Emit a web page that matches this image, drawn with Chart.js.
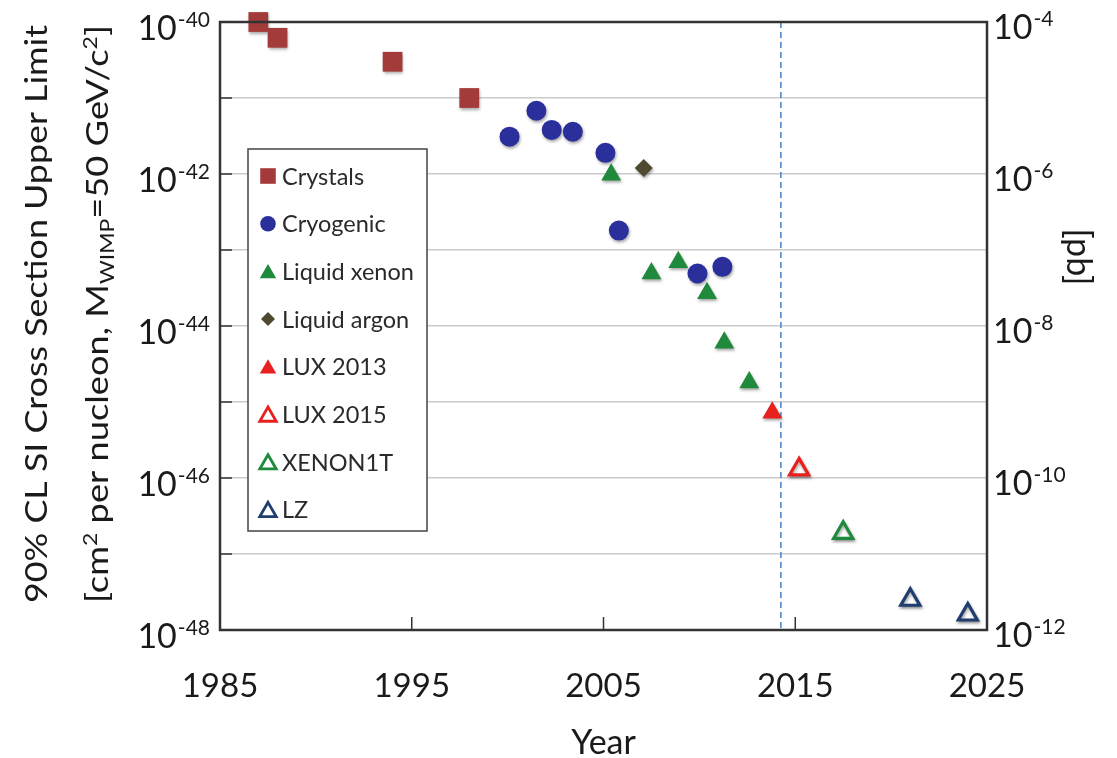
<!DOCTYPE html>
<html>
<head>
<meta charset="utf-8">
<script src="https://cdn.jsdelivr.net/npm/chart.js@4.4.1/dist/chart.umd.min.js"></script>
<style>
  html, body { margin: 0; padding: 0; background: #fff; }
  #wrap { width: 1117px; height: 758px; }
</style>
</head>
<body>
<div id="wrap"><canvas id="limitChart" width="1117" height="758"></canvas></div>
<script>
// --- data: year of result, 90% CL upper limit in cm^2 ---
const crystalYears = [1987.0, 1988.0, 1994.0, 1998.0];
const crystalLimits = [1.0e-40, 6.2e-41, 3.0e-41, 1.0e-41];

const cryoYears = [2000.1, 2001.5, 2002.3, 2003.4, 2005.1, 2005.8, 2009.9, 2011.2];
const cryoLimits = [3.1e-42, 6.8e-42, 3.8e-42, 3.6e-42, 1.9e-42, 1.8e-43, 4.9e-44, 6.0e-44];

const xenonYears = [2005.4, 2007.5, 2008.9, 2010.4, 2011.3, 2012.6];
const xenonLimits = [9.8e-43, 4.9e-44, 6.9e-44, 2.7e-44, 6.0e-45, 1.8e-45];

const argonYears = [2007.1];
const argonLimits = [1.2e-42];

const lux2013Years = [2013.8];
const lux2013Limits = [7.2e-46];

const lux2015Years = [2015.2];
const lux2015Limits = [1.3e-46];

const xenon1tYears = [2017.5];
const xenon1tLimits = [1.9e-47];

const lzYears = [2021.0, 2024.0];
const lzLimits = [2.5e-48, 1.6e-48];

// "today" marker
const nowYear = 2014.25;

// axes
const yearTicks = [1985, 1995, 2005, 2015, 2025];
const cmDecades = [-48, -47, -46, -45, -44, -43, -42, -41, -40];
const cmLabelExps = ['-40', '-42', '-44', '-46', '-48'];
const pbLabelExps = ['-4', '-6', '-8', '-10', '-12'];

const FONT = 'Lato, "Open Sans", sans-serif';
const font = (s) => s + 'px ' + FONT;

function pts(xs, ys) {
  return xs.map((x, i) => ({ x: x, y: ys[i] }));
}

const datasets = [
  { label: 'Crystals', data: pts(crystalYears, crystalLimits), pointStyle: 'rect', pointRadius: 14,
    backgroundColor: '#a33b3a', borderColor: '#a33b3a', borderWidth: 0 },
  { label: 'Cryogenic', data: pts(cryoYears, cryoLimits), pointStyle: 'circle', pointRadius: 10,
    backgroundColor: '#2b2f9c', borderColor: '#2b2f9c', borderWidth: 0 },
  { label: 'Liquid xenon', data: pts(xenonYears, xenonLimits), pointStyle: 'triangle', pointRadius: 11.5,
    backgroundColor: '#1f8a3c', borderColor: '#1f8a3c', borderWidth: 0 },
  { label: 'Liquid argon', data: pts(argonYears, argonLimits), pointStyle: 'rectRot', pointRadius: 9,
    backgroundColor: '#4e4a30', borderColor: '#4e4a30', borderWidth: 0 },
  { label: 'LUX 2013', data: pts(lux2013Years, lux2013Limits), pointStyle: 'triangle', pointRadius: 11.5,
    backgroundColor: '#e8201e', borderColor: '#e8201e', borderWidth: 0 },
  { label: 'LUX 2015', data: pts(lux2015Years, lux2015Limits), pointStyle: 'triangle', pointRadius: 11,
    backgroundColor: '#ffffff', borderColor: '#e8201e', borderWidth: 3.2, open: true },
  { label: 'XENON1T', data: pts(xenon1tYears, xenon1tLimits), pointStyle: 'triangle', pointRadius: 11,
    backgroundColor: '#ffffff', borderColor: '#1f8a3c', borderWidth: 3.2, open: true },
  { label: 'LZ', data: pts(lzYears, lzLimits), pointStyle: 'triangle', pointRadius: 11,
    backgroundColor: '#ffffff', borderColor: '#1f3d6e', borderWidth: 3.2, open: true }
].map(d => Object.assign(d, { clip: false, pointHoverRadius: d.pointRadius }));

// small marker shapes for the legend box
function drawMarker(ctx, style, x, y, r, fill, stroke, lw) {
  ctx.beginPath();
  if (style === 'rect') {
    ctx.rect(x - r, y - r, 2 * r, 2 * r);
  } else if (style === 'circle') {
    ctx.arc(x, y, r, 0, Math.PI * 2);
  } else if (style === 'rectRot') {
    ctx.moveTo(x, y - r); ctx.lineTo(x + r, y); ctx.lineTo(x, y + r); ctx.lineTo(x - r, y);
  } else {
    ctx.moveTo(x, y - r);
    ctx.lineTo(x + r * 0.866, y + r * 0.5);
    ctx.lineTo(x - r * 0.866, y + r * 0.5);
  }
  ctx.closePath();
  ctx.fillStyle = fill;
  ctx.fill();
  if (lw > 0) {
    ctx.lineWidth = lw;
    ctx.strokeStyle = stroke;
    ctx.lineJoin = 'miter';
    ctx.stroke();
  }
}

// "10" followed by a raised exponent
function drawPower(ctx, exp, x, y, align, big, small, baseDy, supDy) {
  ctx.font = font(big);
  const w1 = ctx.measureText('10').width;
  ctx.font = font(small);
  const w2 = ctx.measureText(exp).width;
  const x0 = align === 'right' ? x - w1 - w2 : x;
  ctx.textAlign = 'left';
  ctx.textBaseline = 'alphabetic';
  ctx.font = font(big);
  ctx.fillText('10', x0, y + baseDy);
  ctx.font = font(small);
  ctx.fillText(exp, x0 + w1 + 1, y + supDy);
}

const markerShadow = {
  id: 'markerShadow',
  beforeDatasetsDraw(chart) {
    const ctx = chart.ctx;
    const area = chart.chartArea;
    const xs = chart.scales.x;
    // dashed vertical line at the current year
    ctx.save();
    ctx.strokeStyle = '#4f88d0';
    ctx.lineWidth = 1.6;
    ctx.setLineDash([6, 4]);
    const px = xs.getPixelForValue(nowYear);
    ctx.beginPath();
    ctx.moveTo(px, area.top);
    ctx.lineTo(px, area.bottom);
    ctx.stroke();
    ctx.restore();

    ctx.save();
    ctx.shadowColor = 'rgba(0,0,0,0.35)';
    ctx.shadowBlur = 3;
    ctx.shadowOffsetX = 1;
    ctx.shadowOffsetY = 2;
  },
  afterDatasetsDraw(chart) {
    chart.ctx.restore();
  }
};

const frameAndText = {
  id: 'frameAndText',
  afterDraw(chart) {
    const ctx = chart.ctx;
    const a = chart.chartArea;
    const xs = chart.scales.x;
    const ys = chart.scales.y;
    const pb = chart.scales.pb;
    ctx.save();

    // plot frame
    ctx.strokeStyle = '#333';
    ctx.lineWidth = 2.5;
    ctx.strokeRect(a.left, a.top, a.right - a.left, a.bottom - a.top);

    // inward tick marks
    ctx.lineWidth = 1.5;
    ctx.beginPath();
    cmDecades.forEach(e => {
      const py = ys.getPixelForValue(Math.pow(10, e));
      ctx.moveTo(a.left, py); ctx.lineTo(a.left + 12, py);
    });
    yearTicks.forEach(yr => {
      const px = xs.getPixelForValue(yr);
      ctx.moveTo(px, a.bottom); ctx.lineTo(px, a.bottom - 13);
    });
    ctx.stroke();

    ctx.fillStyle = '#1a1a1a';

    // left tick labels
    cmLabelExps.forEach(e => {
      const py = ys.getPixelForValue(Math.pow(10, Number(e)));
      drawPower(ctx, e, 209, py, 'right', 34, 21, 18, 5);
    });
    // right tick labels (pb)
    pbLabelExps.forEach(e => {
      const py = pb.getPixelForValue(Math.pow(10, Number(e)));
      drawPower(ctx, e, 993, py, 'left', 34, 21, 17, 4);
    });

    // year labels
    ctx.font = font(33);
    ctx.textAlign = 'center';
    ctx.textBaseline = 'alphabetic';
    yearTicks.forEach(yr => {
      ctx.fillText(String(yr), xs.getPixelForValue(yr), 697);
    });
    ctx.font = font(34);
    ctx.fillText('Year', (a.left + a.right) / 2, 754);

    // right title
    ctx.save();
    ctx.translate(1067, 257);
    ctx.rotate(Math.PI / 2);
    ctx.font = font(34);
    ctx.textAlign = 'center';
    ctx.fillText('[pb]', 0, 0);
    ctx.restore();

    // left title, two lines, squeezed to the plot height
    const titleLen = 578;
    const F = 30;
    ctx.save();
    ctx.translate(47, 314);
    ctx.rotate(-Math.PI / 2);
    ctx.font = font(F);
    const w1 = ctx.measureText('90% CL SI Cross Section Upper Limit').width;
    ctx.scale(titleLen / w1, 1);
    ctx.textAlign = 'center';
    ctx.fillText('90% CL SI Cross Section Upper Limit', 0, 0);
    ctx.restore();

    const segs = [
      ['[cm', 0], ['2', 1], [' per nucleon, M', 0], ['WIMP', -1], ['=50 GeV/c', 0], ['2', 1], [']', 0]
    ];
    const small = Math.round(F * 0.64);
    let total = 0;
    segs.forEach(s => {
      ctx.font = font(s[1] ? small : F);
      s.push(ctx.measureText(s[0]).width);
      total += s[2];
    });
    ctx.save();
    ctx.translate(108, 314);
    ctx.rotate(-Math.PI / 2);
    ctx.scale(titleLen / total, 1);
    ctx.textAlign = 'left';
    let cx = -total / 2;
    segs.forEach(s => {
      ctx.font = font(s[1] ? small : F);
      const dy = s[1] === 1 ? -F * 0.38 : (s[1] === -1 ? F * 0.2 : 0);
      ctx.fillText(s[0], cx, dy);
      cx += s[2];
    });
    ctx.restore();

    // legend box
    const lx = 248, ly = 149, lw = 179, lh = 382;
    ctx.fillStyle = '#fff';
    ctx.fillRect(lx, ly, lw, lh);
    ctx.strokeStyle = '#444';
    ctx.lineWidth = 1.5;
    ctx.strokeRect(lx, ly, lw, lh);
    const sizes = { rect: 7.8, circle: 7.8, triangle: 9.5, rectRot: 7 };
    chart.data.datasets.forEach((d, i) => {
      const cy = 176 + i * 47.7;
      const mx = 268;
      const r = sizes[d.pointStyle];
      const my = d.pointStyle === 'triangle' ? cy + 2 : cy;
      drawMarker(ctx, d.pointStyle, mx, my, r, d.backgroundColor, d.borderColor, d.open ? 2.8 : 0);
      ctx.fillStyle = '#2a2a2a';
      ctx.font = font(23.5);
      ctx.textAlign = 'left';
      ctx.textBaseline = 'alphabetic';
      ctx.fillText(d.label, 282, cy + 8.5);
    });

    ctx.restore();
  }
};

const ctx = document.getElementById('limitChart').getContext('2d');
new Chart(ctx, {
  type: 'scatter',
  data: { datasets: datasets },
  options: {
    responsive: false,
    animation: false,
    events: [],
    layout: { padding: { top: 22, left: 0, right: 0, bottom: 0 } },
    plugins: { legend: { display: false }, tooltip: { enabled: false } },
    scales: {
      x: {
        type: 'linear', min: 1985, max: 2025,
        grid: { display: false, drawTicks: false },
        border: { display: false },
        ticks: { display: false },
        afterFit: (s) => { s.height = 128; }
      },
      y: {
        type: 'logarithmic', position: 'left', min: 1e-48, max: 1e-40,
        grid: { color: '#cbcbcb', lineWidth: 1.5, drawTicks: false },
        border: { display: false },
        ticks: { display: false },
        afterBuildTicks: (s) => { s.ticks = cmDecades.map(e => ({ value: Math.pow(10, e) })); },
        afterFit: (s) => { s.width = 220; }
      },
      pb: {
        type: 'logarithmic', position: 'right', min: 1e-12, max: 1e-4,
        grid: { display: false, drawTicks: false },
        border: { display: false },
        ticks: { display: false },
        afterFit: (s) => { s.width = 130; }
      }
    }
  },
  plugins: [markerShadow, frameAndText]
});
</script>
</body>
</html>
